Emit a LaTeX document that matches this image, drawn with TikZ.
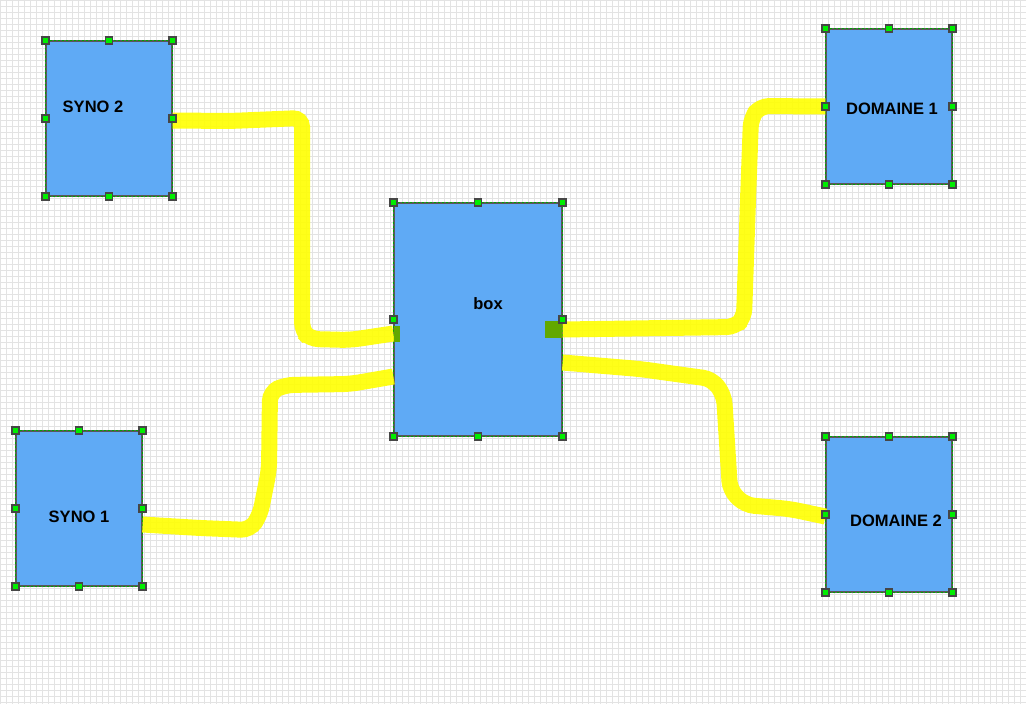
\documentclass[tikz,border=0pt]{standalone}
\usepackage{fontspec}
\setmainfont{Liberation Sans}
\usepackage{xcolor}
\usepackage{tikz}
\usetikzlibrary{calc}

\definecolor{boxblue}{HTML}{5FAAF5}
\definecolor{wireyellow}{HTML}{FFFF00}
\definecolor{handlegreen}{HTML}{00EE00}
\definecolor{grabgreen}{HTML}{62A800}

\begin{document}
\begin{tikzpicture}[
  x=1pt, y=-1pt,
  gridline/.style={draw=gray!22, line width=0.8pt},
  block/.style={rectangle, fill=boxblue, draw=gray!70!black, line width=1.2pt,
                minimum width=126pt, minimum height=155pt, inner sep=0pt},
  rim/.style={draw=green!65!black, line width=1.2pt, dash pattern=on 2pt off 2pt},
  lbl/.style={font=\fontsize{16.5}{18}\selectfont\bfseries, inner sep=0pt},
  handle/.style={rectangle, fill=handlegreen, draw=gray!55!black, line width=1.3pt,
                 minimum size=7pt, inner sep=0pt},
  grab/.style={rectangle, fill=grabgreen, draw=none, inner sep=0pt},
  wire/.style={draw=wireyellow, opacity=0.9, line width=16pt, rounded corners=9pt}
]
\useasboundingbox (0,0) rectangle (1026,704);
\fill[white] (0,0) rectangle (1026,704);
\draw[gridline] (0,0) grid[step=6pt] (1026,704);

% blocks
\node (syno2) [block] at (109,118.5) {};
\node (syno1) [block] at (79,508.5) {};
\node (box)   [block, minimum width=168pt, minimum height=233pt] at (478,319.5) {};
\node (dom1)  [block] at (889,106.5) {};
\node (dom2)  [block] at (889,514.5) {};
\foreach \b in {syno2,syno1,box,dom1,dom2}
  \draw[rim] (\b.north west) rectangle (\b.south east);

% labels
\node (syno2txt) [lbl] at (93,107) {SYNO 2};
\node (syno1txt) [lbl] at (79,517) {SYNO 1};
\node (boxtxt)   [lbl] at (488,304) {box};
\node (dom1txt)  [lbl] at (892,109) {DOMAINE 1};
\node (dom2txt)  [lbl] at (896,521) {DOMAINE 2};

% yellow links
\draw[wire] ($(syno2.east)+(0,2)$) -- (230,121) -- (302,118) -- (302,331)
  -- (310,339) -- (350,340) -- ($(box.west)+(0,14)$);
\draw[wire] ($(syno1.east)+(0,16)$) -- (200,528) -- (250,530) -- (260,515)
  -- (269,470) -- (270,392) -- (285,385) -- (350,384) -- ($(box.west)+(0,57)$);
\draw[wire] ($(box.east)+(0,10)$) -- (735,327) -- (744,318) -- (748,200)
  -- (751,118) -- (760,106) -- (dom1.west);
\draw[wire] ($(box.east)+(0,43)$) -- (640,369) -- (712,379) -- (724,395)
  -- (730,490) -- (745,505) -- (790,509) -- ($(dom2.west)+(0,2)$);

% grab marks
\node (grabL) [grab, minimum width=6pt, minimum height=16pt] at (396.5,334) {};
\node (grabR) [grab, minimum width=17pt, minimum height=17pt] at (553.5,329.5) {};

% handles
\foreach \b in {syno2,syno1,box,dom1,dom2}
  \foreach \a [count=\i] in {north west,north,north east,east,south east,south,south west,west}
    \node (\b h\i) [handle] at (\b.\a) {};
\end{tikzpicture}
\end{document}
